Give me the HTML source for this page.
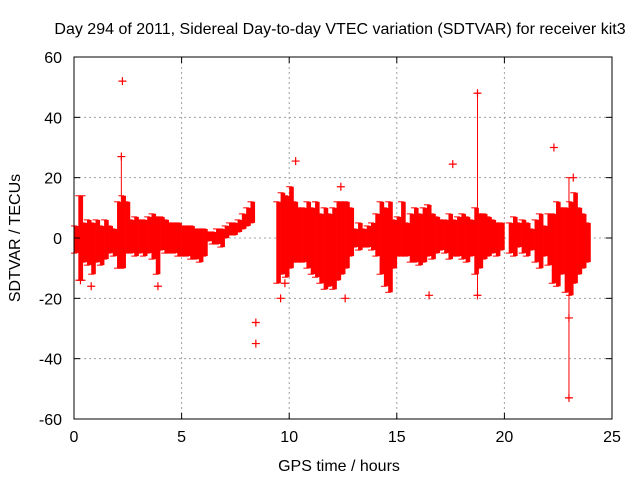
<!DOCTYPE html>
<html><head><meta charset="utf-8"><style>
body{margin:0;background:#fff}
svg{display:block;font-family:"Liberation Sans",sans-serif}
</style></head><body>
<svg id="chart" width="640" height="480">
<rect width="640" height="480" fill="#fff"/>
<text x="340" y="34" font-size="16" text-anchor="middle" fill="#000">Day 294 of 2011, Sidereal Day-to-day VTEC variation (SDTVAR) for receiver kit3</text>
<text x="339" y="471" font-size="16" text-anchor="middle">GPS time / hours</text>
<text x="20" y="238" font-size="16" text-anchor="middle" transform="rotate(-90 20 238)">SDTVAR / TECUs</text>
<g id="grid"></g><g id="marks"></g>
<rect x="74" y="57" width="538" height="362" fill="none" stroke="#000" stroke-width="1"/>
<g id="ticks"></g>
</svg>
<script>
const xTicks=[0,5,10,15,20,25];
const yTicks=[-60,-40,-20,0,20,40,60];
const binStart=[0.0,0.2,0.4,0.6,0.8,1.0,1.2,1.4,1.6,1.8,2.0,2.2,2.4,2.6,2.8,3.0,3.2,3.4,3.6,3.8,4.0,4.2,4.4,4.6,4.8,5.0,5.2,5.4,5.6,5.8,6.0,6.2,6.4,6.6,6.8,7.0,7.2,7.4,7.6,7.8,8.0,8.2,9.4,9.6,9.8,10.0,10.2,10.4,10.6,10.8,11.0,11.2,11.4,11.6,11.8,12.0,12.2,12.4,12.6,12.8,13.0,13.2,13.4,13.6,13.8,14.0,14.2,14.4,14.6,14.8,15.0,15.2,15.4,15.6,15.8,16.0,16.2,16.4,16.6,16.8,17.0,17.2,17.4,17.6,17.8,18.0,18.2,18.4,18.6,18.8,19.0,19.2,19.4,19.6,19.8,20.2,20.4,20.6,20.8,21.0,21.2,21.4,21.6,21.8,22.0,22.2,22.4,22.6,22.8,23.0,23.2,23.4,23.6,23.8];
const binLow=[-5,-14,-8,-9,-12,-8,-9,-7,-5,-6,-10,-10,-5,-5,-6,-5,-6,-5,-7,-12,-4,-5,-5,-5,-6,-6,-6,-7,-7,-8,-6,-1,-2,-2,-3,0,1,1,2,3,4,5,-15,-12,-13,-10,-8,-8,-8,-10,-12,-13,-15,-17,-16,-17,-14,-12,-10,-6,-3,-4,-3,-3,-4,-6,-12,-16,-18,-10,-6,-6,-6,-8,-8,-9,-8,-6,-7,-5,-4,-5,-7,-6,-6,-7,-8,-6,-12,-10,-7,-6,-5,-6,-4,-5,-6,-3,-5,-6,-4,-8,-10,-6,-9,-15,-16,-12,-18,-19,-15,-12,-10,-8];
const binHigh=[4,14,5,6,5,6,4,6,4,3,12,14,12,6,7,6,6,7,8,7,7,6,5,5,5,4,4,4,3,3,3,2,2,3,3,4,5,5,6,8,10,12,12,15,14,17,12,10,10,12,10,12,8,10,8,10,12,12,12,10,3,5,3,4,5,8,12,10,12,6,7,12,5,8,10,8,10,11,8,7,6,6,8,6,7,8,7,6,10,8,8,7,6,5,5,5,7,5,6,5,3,6,8,4,8,8,12,10,10,12,15,10,8,5];
const outX=[2.25,2.2,8.45,8.45,10.3,12.4,12.6,17.6,18.75,18.75,22.3,23.0,23.0,23.2,9.6,9.8,16.5,0.8,3.9,0.3];
const outY=[52,27,-28,-35,25.5,17,-20,24.5,48,-19,30,-53,-26.5,20,-20,-15,-19,-16,-16,-14];
const barX=[18.75,23.0,2.2,0.4];
const barLo=[-19,-53,-10,-14];
const barHi=[48,20,27,14];
const X=v=>74+v*538/25, Y=v=>238-v*181/60;
const ns="http://www.w3.org/2000/svg";
function mk(tag,at,parent){const e=document.createElementNS(ns,tag);for(const k in at)e.setAttribute(k,at[k]);parent.appendChild(e);return e;}
const grid=document.getElementById('grid'),ticks=document.getElementById('ticks'),marks=document.getElementById('marks');
xTicks.forEach(t=>{
 if(t>0&&t<25){const g=mk('line',{x1:X(t),x2:X(t),y1:57,y2:419,stroke:'#a0a0a0','stroke-dasharray':'2,3'},grid);
 
 }
 mk('line',{x1:X(t),x2:X(t),y1:419,y2:413,stroke:'#000'},ticks);mk('line',{x1:X(t),x2:X(t),y1:57,y2:63,stroke:'#000'},ticks);
 const l=mk('text',{x:X(t),y:442,'font-size':16,'text-anchor':'middle'},ticks);l.textContent=t;
 
 
});
yTicks.forEach(t=>{
 if(t>-60&&t<60){const g=mk('line',{x1:74,x2:612,y1:Y(t),y2:Y(t),stroke:'#a0a0a0','stroke-dasharray':'2,3'},grid);
 
 }
 mk('line',{x1:74,x2:80,y1:Y(t),y2:Y(t),stroke:'#000'},ticks);mk('line',{x1:612,x2:606,y1:Y(t),y2:Y(t),stroke:'#000'},ticks);
 const l=mk('text',{x:62,y:Y(t)+6,'font-size':16,'text-anchor':'end'},ticks);l.textContent=t;
 
 
});
binStart.forEach((t,i)=>{
 const r=mk('rect',{x:X(t),y:Y(binHigh[i]),width:X(t+0.2)-X(t)+0.3,height:Y(binLow[i])-Y(binHigh[i]),fill:'#ff0000'},marks);
 
 
 [binLow[i],binHigh[i]].forEach(v=>{mk('line',{x1:X(t)-3,x2:X(t)+3,y1:Y(v),y2:Y(v),stroke:'#f00'},marks);});
});
barX.forEach((t,i)=>{
 const b=mk('line',{x1:X(t),x2:X(t),y1:Y(barHi[i]),y2:Y(barLo[i]),stroke:'#f00'},marks);
 
 
 [barLo[i],barHi[i]].forEach(v=>mk('line',{x1:X(t)-3,x2:X(t)+3,y1:Y(v),y2:Y(v),stroke:'#f00'},marks));
});
outX.forEach((t,i)=>{
 const p=mk('path',{d:`M${X(t)-4},${Y(outY[i])}h8M${X(t)},${Y(outY[i])-4}v8`,stroke:'#f00','stroke-width':1.2},marks);
 
 
});
</script>
</body></html>
